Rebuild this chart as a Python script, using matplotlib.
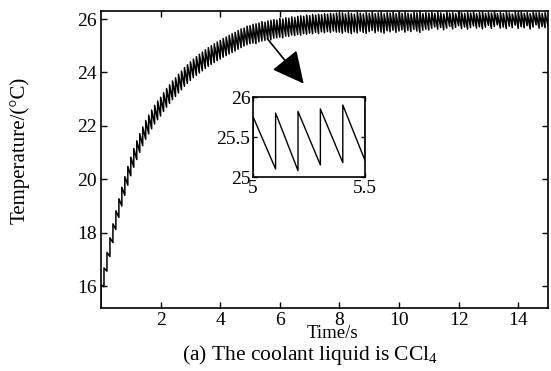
import numpy as np
import matplotlib
matplotlib.use('Agg')
import matplotlib.pyplot as plt

plt.rcParams['font.family'] = ['Liberation Serif', 'DejaVu Serif']
plt.rcParams['font.size'] = 14
plt.rcParams['mathtext.fontset'] = 'custom'
plt.rcParams['mathtext.rm'] = 'Liberation Serif'
plt.rcParams['mathtext.it'] = 'Liberation Serif:italic'

# sawtooth: one tooth every 0.1 s
# trough value just before each jump (t = 0, 0.1, ..., 15.0)
low = [15.20, 15.98, 16.56, 17.11, 17.63, 18.12, 18.57, 19.00, 19.40, 19.78,
       20.13, 20.45, 20.74, 21.01, 21.26, 21.50, 21.70, 21.89, 22.07, 22.23,
       22.37, 22.54, 22.70, 22.84, 22.98, 23.10, 23.23, 23.35, 23.48, 23.59,
       23.70, 23.80, 23.89, 23.98, 24.06, 24.15, 24.23, 24.30, 24.37, 24.44,
       24.50, 24.57, 24.63, 24.69, 24.75, 24.80, 24.87, 24.93, 24.99, 25.04,
       25.08, 25.10, 25.08, 25.15, 25.18, 25.20, 25.24, 25.22, 25.28, 25.30,
       25.32, 25.30, 25.36, 25.35, 25.40, 25.38, 25.42, 25.40, 25.45, 25.43,
       25.47, 25.45, 25.50, 25.46, 25.52, 25.48, 25.53, 25.50, 25.55, 25.51,
       25.51, 25.47, 25.53, 25.49, 25.45, 25.52, 25.48, 25.55, 25.50, 25.46,
       25.53, 25.57, 25.49, 25.55, 25.51, 25.47, 25.56, 25.52, 25.58, 25.50,
       25.55, 25.59, 25.51, 25.57, 25.53, 25.61, 25.55, 25.50, 25.58, 25.62,
       25.59, 25.65, 25.70, 25.62, 25.68, 25.60, 25.66, 25.72, 25.63, 25.69,
       25.75, 25.64, 25.70, 25.62, 25.68, 25.74, 25.66, 25.71, 25.63, 25.69,
       25.76, 25.65, 25.72, 25.78, 25.66, 25.70, 25.64, 25.73, 25.68, 25.77,
       25.65, 25.71, 25.67, 25.75, 25.63, 25.70, 25.78, 25.66, 25.72, 25.68,
       25.74]
# peak value just after each jump (t = 0, 0.1, ..., 14.9)
high = [16.05, 16.68, 17.26, 17.81, 18.33, 18.82, 19.27, 19.70, 20.10, 20.48,
        20.83, 21.15, 21.44, 21.71, 21.96, 22.20, 22.40, 22.59, 22.77, 22.93,
        23.07, 23.24, 23.40, 23.54, 23.68, 23.80, 23.93, 24.05, 24.18, 24.29,
        24.40, 24.50, 24.59, 24.68, 24.76, 24.85, 24.93, 25.00, 25.07, 25.14,
        25.20, 25.27, 25.33, 25.39, 25.45, 25.50, 25.57, 25.63, 25.66, 25.73,
        25.75, 25.80, 25.82, 25.85, 25.90, 25.88, 25.93, 25.95, 25.98, 25.96,
        26.02, 26.00, 26.05, 26.03, 26.08, 26.06, 26.10, 26.12, 26.10, 26.15,
        26.13, 26.17, 26.15, 26.18, 26.16, 26.20, 26.18, 26.21, 26.19, 26.22,
        26.20, 26.23, 26.19, 26.24, 26.21, 26.18, 26.25, 26.22, 26.19, 26.24,
        26.21, 26.26, 26.20, 26.23, 26.25, 26.19, 26.24, 26.22, 26.27, 26.20,
        26.24, 26.21, 26.26, 26.22, 26.19, 26.25, 26.23, 26.27, 26.20, 26.24,
        26.22, 26.26, 26.21, 26.25, 26.23, 26.19, 26.27, 26.22, 26.24, 26.20,
        26.26, 26.23, 26.21, 26.25, 26.22, 26.27, 26.20, 26.24, 26.26, 26.21,
        26.25, 26.22, 26.27, 26.20, 26.24, 26.21, 26.26, 26.23, 26.19, 26.25,
        26.22, 26.27, 26.21, 26.24, 26.20, 26.26, 26.23, 26.25, 26.21, 26.24]
period = 0.1

x_ticks = [2, 4, 6, 8, 10, 12, 14]
y_ticks = [16, 18, 20, 22, 24, 26]
inset_x_ticks = [5, 5.5]
inset_y_ticks = [25, 25.5, 26]

# build the line: vertical jump low->high at each tooth, then linear decay
t_jump = np.arange(len(low)) * period
tt = []
yy = []
for k in range(len(high)):
    tt += [t_jump[k], t_jump[k]]
    yy += [low[k], high[k]]
tt.append(t_jump[-1])
yy.append(low[-1])

fig = plt.figure(figsize=(5.51, 3.71), dpi=100)
ax = fig.add_axes([0.1833, 0.1698, 0.8113, 0.8005])
ax.plot(tt, yy, color='black', lw=1.1)
ax.set_xlim(0, 15)
ax.set_ylim(15.18, 26.3)
ax.set_xticks(x_ticks)
ax.set_yticks(y_ticks)
ax.tick_params(direction='in', top=True, right=True, length=4, width=1, pad=3)
for s in ax.spines.values():
    s.set_linewidth(1.2)

# arrow pointing to the zoomed window
ax.annotate('', xy=(6.86, 23.5), xytext=(5.52, 25.35),
            arrowprops=dict(arrowstyle='-|>,head_length=0.9,head_width=0.45',
                            color='black', lw=1.2, mutation_scale=22))

# inset
axi = fig.add_axes([0.4595, 0.5229, 0.2033, 0.2156])
axi.plot(tt, yy, color='black', lw=1.0)
axi.set_xlim(5, 5.5)
axi.set_ylim(25, 26)
axi.set_xticks(inset_x_ticks)
axi.set_xticklabels(['5', '5.5'])
axi.set_yticks(inset_y_ticks)
axi.set_yticklabels(['25', '25.5', '26'])
axi.tick_params(direction='in', top=True, right=True, length=3, width=1, pad=2)
for s in axi.spines.values():
    s.set_linewidth(1.2)

fig.text(0.6025, 0.1024, 'Time/s', ha='center', va='center', fontsize=13.5)
fig.text(0.036, 0.596, 'Temperature/(°C)', rotation=90, ha='center',
         va='center', fontsize=15)
fig.text(0.5626, 0.043, '(a) The coolant liquid is CCl$_4$', ha='center',
         va='center', fontsize=15.5)

fig.savefig('out.png', dpi=100)
